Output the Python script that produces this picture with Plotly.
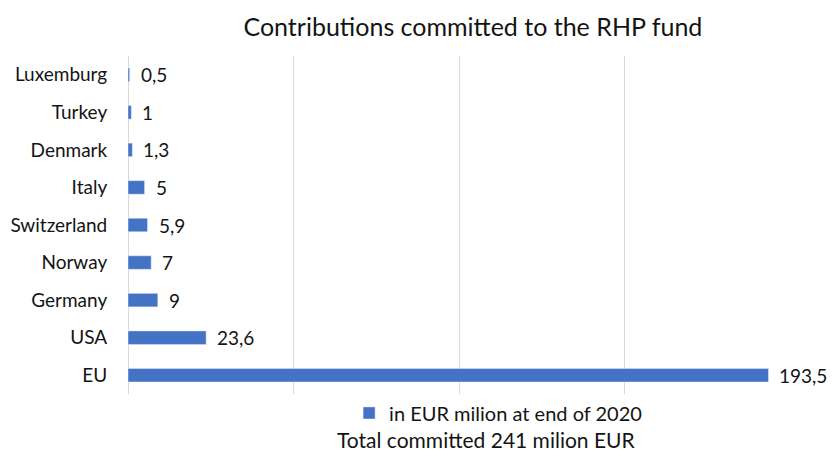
import plotly.graph_objects as go

categories = ["Luxemburg", "Turkey", "Denmark", "Italy", "Switzerland", "Norway", "Germany", "USA", "EU"]
values = [0.5, 1, 1.3, 5, 5.9, 7, 9, 23.6, 193.5]
series_name = "in EUR milion at end of 2020"
title = "Contributions committed to the RHP fund"
note = "Total committed 241 milion EUR"

labels = [f"{v:g}".replace(".", ",") for v in values]

FONT = "Lato"
TXT = "#141414"
fig = go.Figure()
fig.add_trace(go.Bar(
    y=categories, x=values, orientation="h", name=series_name,
    marker=dict(color="#4472C4"), width=0.36,
    showlegend=True,
))
annotations = [dict(text=lab, x=v, y=c, xref="x", yref="y", xanchor="left", yanchor="middle",
                    xshift=9, showarrow=False, font=dict(family=FONT, size=19, color=TXT))
               for c, v, lab in zip(categories, values, labels)]
annotations.append(dict(text=note, xref="paper", yref="paper", x=0.541, y=-0.136,
                        xanchor="center", yanchor="middle", showarrow=False,
                        font=dict(family=FONT, size=21, color=TXT)))
fig.update_layout(
    width=833, height=453,
    margin=dict(l=128, r=43, t=56, b=59, autoexpand=False),
    paper_bgcolor="white", plot_bgcolor="white",
    font=dict(family=FONT, color=TXT),
    title=dict(text=title, x=0.521, xref="paper", xanchor="center", y=0.94, yanchor="middle",
               font=dict(family=FONT, size=25, color=TXT), automargin=False),
    xaxis=dict(range=[0, 200], dtick=50, showticklabels=False, showgrid=True,
               gridcolor="#d9d9d9", gridwidth=1, zeroline=True, zerolinecolor="#d9d9d9",
               zerolinewidth=1, showline=False, ticks="", automargin=False),
    yaxis=dict(autorange="reversed", tickfont=dict(family=FONT, size=19, color=TXT),
               ticks="outside", ticklen=16, tickcolor="rgba(0,0,0,0)", showgrid=False,
               automargin=False),
    legend=dict(orientation="h", x=0.334, xanchor="left", y=-0.056, yanchor="middle",
                font=dict(family=FONT, size=20, color=TXT), bgcolor="rgba(0,0,0,0)"),
    annotations=annotations,
)
fig.write_html("out.html", config={"displayModeBar": False},
               post_script="document.body.style.margin='0';")
